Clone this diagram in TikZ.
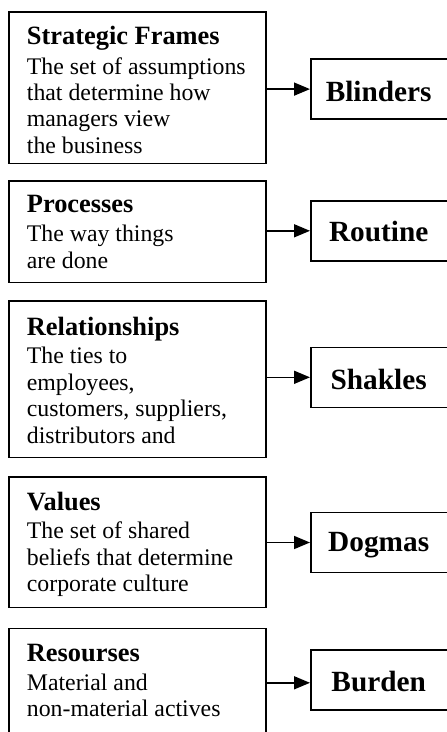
\documentclass[tikz,border=0pt]{standalone}
\usepackage{fontspec}
\setmainfont{Liberation Serif}
\usetikzlibrary{arrows.meta}
\tikzset{
  lbox/.style={draw=black, line width=1.6pt, inner sep=0pt, anchor=north west, minimum width=257pt},
  rbox/.style={draw=black, line width=1.6pt, inner sep=0pt, anchor=north west, minimum width=137pt, minimum height=60pt},
  ttl/.style={anchor=base west, inner sep=0pt, font=\bfseries\fontsize{26.4}{30}\selectfont},
  bdy/.style={anchor=base west, inner sep=0pt, font=\fontsize{23.8}{26.6}\selectfont},
  lbl/.style={anchor=base, inner sep=0pt, font=\bfseries\fontsize{29.3}{32}\selectfont},
  conn/.style={line width=1.6pt, -{Triangle[length=16pt,width=13pt]}}
}
\begin{document}
\begin{tikzpicture}[x=1pt,y=-1pt]
\useasboundingbox (0,0) rectangle (447,732);
\clip (0,0) rectangle (447,732);
% left boxes
\node[lbox, minimum height=151.5pt] (lb1) at (8,11) {};
\node[lbox, minimum height=101.7pt] (lb2) at (8,180) {};
\node[lbox, minimum height=156.7pt] (lb3) at (8,300) {};
\node[lbox, minimum height=130.7pt] (lb4) at (8,476) {};
\node[lbox, minimum height=108pt] (lb5) at (8,627.7) {};
% right boxes
\node[rbox] (rb1) at (310,58.3) {};
\node[rbox] (rb2) at (310,200) {};
\node[rbox] (rb3) at (310,346.5) {};
\node[rbox] (rb4) at (310,511.7) {};
\node[rbox] (rb5) at (310,649.3) {};
% right labels
\node[lbl] (l1) at (378.7,101) {Blinders};
\node[lbl] (l2) at (378.7,241) {Routine};
\node[lbl] (l3) at (378.7,389.5) {Shakles};
\node[lbl] (l4) at (378.7,551.7) {Dogmas};
\node[lbl] (l5) at (378.7,691) {Burden};
% box 1 text
\node[ttl] (t1) at (26.7,44.3) {Strategic Frames};
\node[bdy] (b1a) at (26.7,74) {The set of assumptions};
\node[bdy] (b1b) at (26.7,100.3) {that determine how};
\node[bdy] (b1c) at (26.7,126.7) {managers view};
\node[bdy] (b1d) at (26.7,153) {the business};
% box 2 text
\node[ttl] (t2) at (26.7,212.2) {Processes};
\node[bdy] (b2a) at (26.7,241.7) {The way things};
\node[bdy] (b2b) at (26.7,268.3) {are done};
% box 3 text
\node[ttl] (t3) at (26.7,335) {Relationships};
\node[bdy] (b3a) at (26.7,363.5) {The ties to};
\node[bdy] (b3b) at (26.7,390) {employees,};
\node[bdy] (b3c) at (26.7,416.7) {customers, suppliers,};
\node[bdy] (b3d) at (26.7,443.3) {distributors and};
% box 4 text
\node[ttl] (t4) at (26.7,510) {Values};
\node[bdy] (b4a) at (26.7,538.3) {The set of shared};
\node[bdy] (b4b) at (26.7,565) {beliefs that determine};
\node[bdy] (b4c) at (26.7,591.7) {corporate culture};
% box 5 text
\node[ttl] (t5) at (26.7,661.7) {Resourses};
\node[bdy] (b5a) at (26.7,690) {Material and};
\node[bdy] (b5b) at (26.7,716.7) {non-material actives};
% connectors
\draw[conn] (rb1.west -| lb1.east) -- (rb1.west);
\draw[conn] (rb2.west -| lb2.east) -- (rb2.west);
\draw[conn] (rb3.west -| lb3.east) -- (rb3.west);
\draw[conn] (rb4.west -| lb4.east) -- (rb4.west);
\draw[conn] ([yshift=-2.7pt]rb5.west -| lb5.east) -- ([yshift=-2.7pt]rb5.west);
\end{tikzpicture}
\end{document}
